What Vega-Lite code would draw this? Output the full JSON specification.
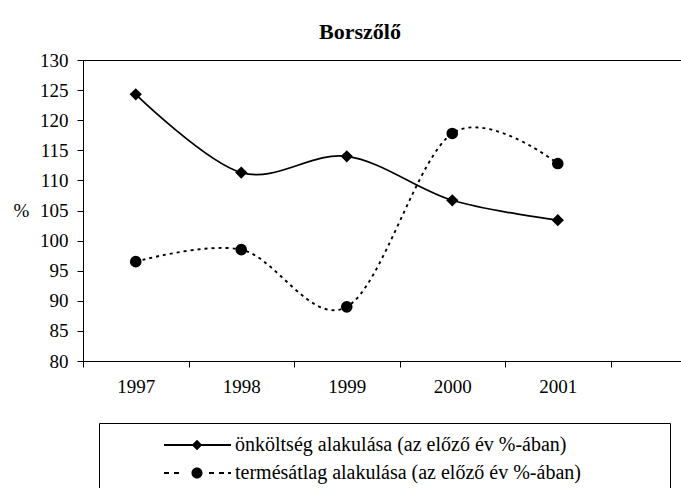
{
  "$schema": "https://vega.github.io/schema/vega-lite/v6.json",
  "width": 598,
  "height": 301,
  "autosize": {"type": "none"},
  "padding": {"left": 83, "top": 60, "right": 0, "bottom": 127},
  "background": "white",
  "title": {"text": "Borszőlő", "font": "Liberation Serif", "fontSize": 22, "fontWeight": "bold", "color": "black", "anchor": "middle", "dx": -22, "dy": 35, "offset": 20, "baseline": "bottom"},
  "config": {
    "view": {"stroke": "black", "strokeWidth": 1},
    "font": "Liberation Serif",
    "axis": {"grid": false, "domainColor": "black", "tickColor": "black", "labelColor": "black", "labelFont": "Liberation Serif", "labelFontSize": 19, "tickSize": 6, "domainWidth": 1, "tickWidth": 1}
  },
  "data": {"values": [
    {"year": "1997", "series": "önköltség alakulása (az előző év %-ában)", "value": 124.3},
    {"year": "1998", "series": "önköltség alakulása (az előző év %-ában)", "value": 111.3},
    {"year": "1999", "series": "önköltség alakulása (az előző év %-ában)", "value": 114.0},
    {"year": "2000", "series": "önköltség alakulása (az előző év %-ában)", "value": 106.7},
    {"year": "2001", "series": "önköltség alakulása (az előző év %-ában)", "value": 103.4},
    {"year": "1997", "series": "termésátlag alakulása (az előző év %-ában)", "value": 96.5},
    {"year": "1998", "series": "termésátlag alakulása (az előző év %-ában)", "value": 98.5},
    {"year": "1999", "series": "termésátlag alakulása (az előző év %-ában)", "value": 89.0},
    {"year": "2000", "series": "termésátlag alakulása (az előző év %-ában)", "value": 117.8},
    {"year": "2001", "series": "termésátlag alakulása (az előző év %-ában)", "value": 112.8}
  ]},
  "encoding": {
    "x": {"field": "year", "type": "ordinal",
      "scale": {"type": "band", "paddingInner": 0, "paddingOuter": 0.334, "align": 0},
      "axis": {"title": null, "labelAngle": 0, "tickBand": "extent", "labelPadding": 10}},
    "y": {"field": "value", "type": "quantitative",
      "scale": {"domain": [80, 130], "nice": false, "zero": false},
      "axis": {"values": [80, 85, 90, 95, 100, 105, 110, 115, 120, 125, 130], "labelPadding": 9, "title": "%", "titleAngle": 0, "titleFont": "Liberation Serif", "titleFontSize": 19, "titleFontWeight": "normal", "titleColor": "black", "titleX": -62, "titleY": 150.5, "titleAlign": "center", "titleBaseline": "middle"}}
  },
  "layer": [
    {
      "transform": [{"filter": "datum.series === 'önköltség alakulása (az előző év %-ában)'"}],
      "mark": {"type": "line", "interpolate": "cardinal", "color": "black", "strokeWidth": 1.7}
    },
    {
      "transform": [{"filter": "datum.series === 'termésátlag alakulása (az előző év %-ában)'"}],
      "mark": {"type": "line", "interpolate": "cardinal", "color": "black", "strokeWidth": 1.9, "strokeDash": [3, 4]}
    },
    {
      "transform": [{"filter": "datum.series === 'önköltség alakulása (az előző év %-ában)'"}],
      "mark": {"type": "point", "filled": true, "color": "black", "opacity": 1, "shape": "diamond", "size": 150}
    },
    {
      "transform": [{"filter": "datum.series === 'termésátlag alakulása (az előző év %-ában)'"}],
      "mark": {"type": "point", "filled": true, "color": "black", "opacity": 1, "shape": "circle", "size": 135}
    },
    {
      "mark": {"type": "point", "filled": true, "color": "black", "opacity": 1, "size": 0},
      "encoding": {
        "shape": {"field": "series", "type": "nominal",
          "scale": {"domain": ["önköltség alakulása (az előző év %-ában)", "termésátlag alakulása (az előző év %-ában)"],
            "range": ["M-1,-0.11H7.375V0.11H-1Z M3.125,-0.66L3.785,0L3.125,0.66L2.465,0Z M60.65,0L60.65,0", "M-1,-0.14H-0.375V0.14H-1Z M0.25,-0.14H0.875V0.14H0.25Z M2.435,0A0.69,0.69,0,1,1,3.815,0A0.69,0.69,0,1,1,2.435,0Z M4.625,-0.14H5.25V0.14H4.625Z M5.875,-0.14H6.5V0.14H5.875Z M7,-0.14H7.375V0.14H7Z M60.65,0L60.65,0"]},
          "legend": {
            "orient": "none", "legendX": 16, "legendY": 363, "direction": "vertical", "title": null,
            "strokeColor": "black", "padding": 12, "labelFont": "Liberation Serif", "labelFontSize": 20, "labelColor": "black",
            "symbolOffset": 51, "symbolSize": 256, "labelOffset": 53, "rowPadding": 8, "labelLimit": 0,
            "symbolFillColor": "black", "symbolStrokeColor": "transparent", "symbolStrokeWidth": 0, "symbolOpacity": 1
          }
        }
      }
    }
  ]
}
